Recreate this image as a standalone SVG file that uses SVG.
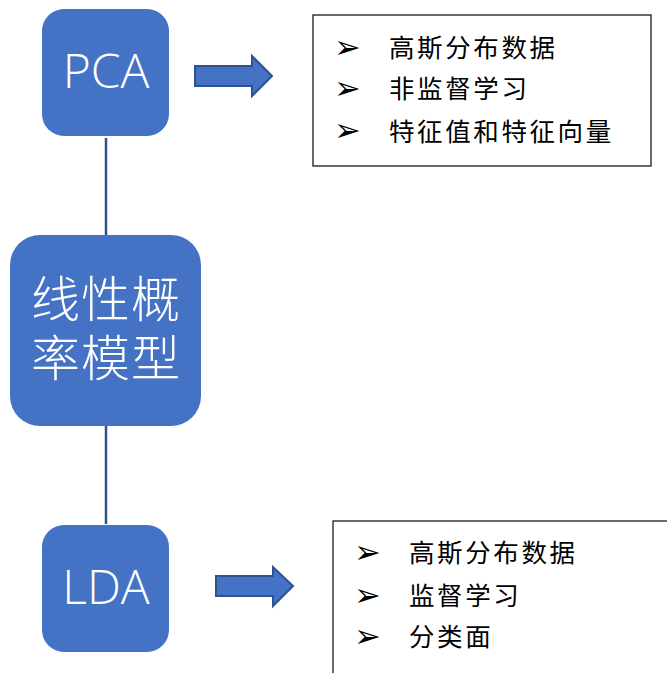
<svg xmlns="http://www.w3.org/2000/svg" width="667" height="673" viewBox="0 0 667 673">
  <defs>
    <style>
      .node { fill: #4472C4; }
      .link { stroke: #2F528F; stroke-width: 2.5; fill: none; }
      .bigarrow { fill: #4472C4; stroke: #2F528F; stroke-width: 2; stroke-linejoin: miter; }
      .label { fill: #FFFFFF; font-family: "Open Sans", "Noto Sans", "Liberation Sans", sans-serif; font-weight: 300; font-size: 48px; text-anchor: middle; }
      .cjk-label { fill: #FFFFFF; font-family: "Noto Sans CJK SC", sans-serif; font-weight: 300; font-size: 49px; text-anchor: middle; letter-spacing: 1px; }
      .panel { fill: #FFFFFF; stroke: #1A1A1A; stroke-width: 1.3; }
      .bullet { fill: #000000; font-family: "DejaVu Sans", sans-serif; font-size: 32px; }
      .item { fill: #000000; font-family: "Noto Sans CJK SC", sans-serif; font-size: 25.5px; letter-spacing: 2.6px; }
    </style>
  </defs>

  <!-- connectors between the central node and the two methods -->
  <g id="connectors">
    <line class="link" x1="106" y1="138" x2="106" y2="236"/>
    <line class="link" x1="106" y1="426" x2="106" y2="524"/>
    <polygon class="bigarrow" points="195,66 252,66 252,56 272,76 252,96 252,86 195,86"/>
    <polygon class="bigarrow" points="216,576 273,576 273,567 293,586 273,606 273,596 216,596"/>
  </g>

  <g id="node-pca">
    <rect class="node" x="42" y="9" width="127" height="127" rx="22"/>
    <text class="label" x="106" y="88">PCA</text>
  </g>

  <g id="node-model">
    <rect class="node" x="10" y="235" width="191" height="191" rx="30"/>
    <text class="cjk-label"><tspan x="106" y="317">线性概</tspan><tspan x="106" y="376">率模型</tspan></text>
  </g>

  <g id="node-lda">
    <rect class="node" x="42" y="525" width="127" height="127" rx="22"/>
    <text class="label" x="106" y="604">LDA</text>
  </g>

  <g id="panel-pca">
    <rect class="panel" x="313" y="15" width="338" height="151"/>
    <text class="bullet" x="334" y="58">➢</text>
    <text class="bullet" x="334" y="99">➢</text>
    <text class="bullet" x="334" y="141">➢</text>
    <text class="item" x="389" y="57">高斯分布数据</text>
    <text class="item" x="389" y="98">非监督学习</text>
    <text class="item" x="389" y="141">特征值和特征向量</text>
  </g>

  <g id="panel-lda">
    <rect class="panel" x="333" y="521" width="340" height="160"/>
    <text class="bullet" x="354" y="563">➢</text>
    <text class="bullet" x="354" y="606">➢</text>
    <text class="bullet" x="354" y="647">➢</text>
    <text class="item" x="409" y="562">高斯分布数据</text>
    <text class="item" x="409" y="605">监督学习</text>
    <text class="item" x="409" y="646">分类面</text>
  </g>
</svg>
